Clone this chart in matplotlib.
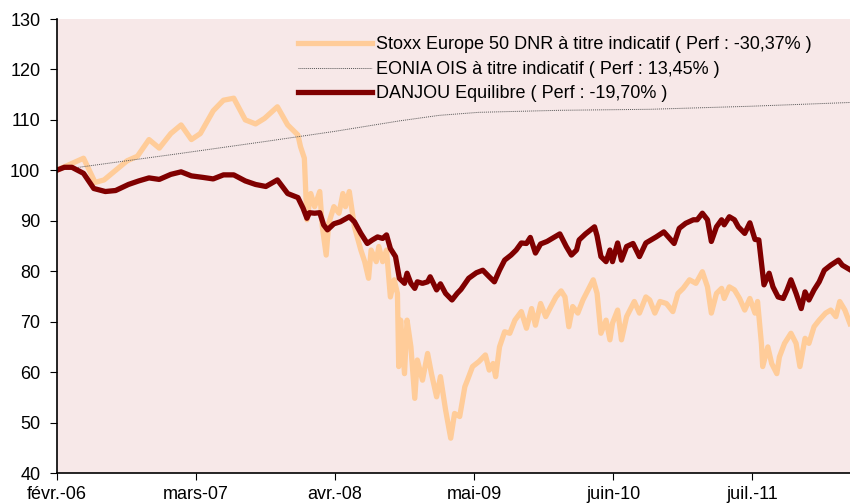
import matplotlib
matplotlib.use("Agg")
import matplotlib.pyplot as plt

plt.rcParams['font.family'] = ['Liberation Sans', 'DejaVu Sans']

# dates in decimal years
stoxx_t = [2006.08, 2006.29, 2006.38, 2006.45, 2006.63, 2006.71, 2006.80, 2006.88, 2006.97, 2007.05,
           2007.13, 2007.20, 2007.30, 2007.38, 2007.46, 2007.55, 2007.63, 2007.70, 2007.80, 2007.88,
           2007.96, 2007.98, 2008.01, 2008.02, 2008.03, 2008.06, 2008.09, 2008.13, 2008.15, 2008.18,
           2008.20, 2008.24, 2008.28, 2008.31, 2008.33, 2008.36, 2008.40, 2008.45, 2008.48, 2008.51,
           2008.53, 2008.57, 2008.59, 2008.62, 2008.65, 2008.68, 2008.71, 2008.735, 2008.745, 2008.76,
           2008.79, 2008.81, 2008.84, 2008.87, 2008.89, 2008.93, 2008.97, 2009.00, 2009.04, 2009.07,
           2009.11, 2009.15, 2009.18, 2009.22, 2009.26, 2009.28, 2009.32, 2009.37, 2009.42, 2009.45,
           2009.48, 2009.50, 2009.53, 2009.57, 2009.61, 2009.65, 2009.70, 2009.74, 2009.78, 2009.81,
           2009.85, 2009.89, 2009.93, 2009.97, 2010.01, 2010.04, 2010.07, 2010.10, 2010.14, 2010.18,
           2010.22, 2010.26, 2010.29, 2010.32, 2010.36, 2010.39, 2010.41, 2010.45, 2010.48, 2010.52,
           2010.58, 2010.62, 2010.67, 2010.70, 2010.74, 2010.78, 2010.83, 2010.88, 2010.92, 2010.96,
           2011.01, 2011.06, 2011.11, 2011.15, 2011.18, 2011.22, 2011.26, 2011.28, 2011.32, 2011.36,
           2011.40, 2011.44, 2011.48, 2011.52, 2011.54, 2011.57, 2011.58, 2011.62, 2011.65, 2011.69,
           2011.71, 2011.75, 2011.80, 2011.84, 2011.87, 2011.91, 2011.94, 2011.98, 2012.02, 2012.07,
           2012.11, 2012.15, 2012.18, 2012.22, 2012.26]
stoxx = [100.0, 102.4, 97.6, 98.1, 101.9, 102.8, 106.1, 104.4, 107.3, 109.0,
         106.1, 107.3, 111.8, 113.9, 114.3, 110.0, 109.2, 110.3, 112.6, 109.0,
         107.0, 104.7, 102.4, 96.1, 90.2, 95.4, 92.8, 95.8, 88.8, 83.2,
         89.5, 92.8, 91.5, 95.4, 92.8, 95.8, 88.8, 84.2, 81.9, 78.6,
         84.2, 81.9, 84.9, 81.9, 84.2, 74.9, 78.3, 75.6, 61.1, 70.3,
         59.7, 70.3, 65.0, 54.8, 62.4, 58.4, 63.7, 59.7, 55.1, 59.1,
         52.5, 46.9, 51.8, 51.2, 57.1, 58.4, 61.1, 62.1, 63.4, 60.4,
         61.7, 59.1, 65.0, 68.0, 67.7, 70.3, 72.0, 68.7, 72.6, 69.3,
         73.6, 71.0, 73.0, 74.9, 76.1, 74.9, 69.0, 73.0, 71.7, 74.3,
         76.3, 78.3, 75.6, 67.7, 70.3, 66.4, 69.7, 72.3, 66.4, 71.0,
         74.0, 71.7, 74.9, 74.3, 71.7, 74.0, 73.6, 72.0, 75.6, 76.6,
         78.3, 77.6, 79.9, 76.9, 71.7, 75.6, 76.6, 74.6, 76.9, 76.3,
         74.6, 72.3, 74.6, 71.7, 74.0, 65.7, 61.1, 65.0, 61.7, 59.7,
         63.0, 65.7, 67.7, 65.7, 61.1, 66.7, 65.7, 69.0, 70.3, 71.7,
         72.3, 71.0, 74.0, 72.3, 69.6]

eonia_t = [2006.08, 2007.03, 2007.70, 2008.24, 2008.75, 2009.06, 2009.37, 2010.00, 2010.70, 2011.48, 2012.26]
eonia = [100.0, 103.3, 105.7, 107.7, 109.8, 110.9, 111.5, 111.9, 112.1, 112.7, 113.45]

fund_t = [2006.08, 2006.14, 2006.20, 2006.29, 2006.37, 2006.46, 2006.54, 2006.64, 2006.72, 2006.80,
          2006.88, 2006.97, 2007.05, 2007.13, 2007.22, 2007.30, 2007.38, 2007.46, 2007.55, 2007.63,
          2007.71, 2007.80, 2007.88, 2007.96, 2008.00, 2008.03, 2008.05, 2008.09, 2008.13, 2008.16,
          2008.19, 2008.24, 2008.29, 2008.36, 2008.40, 2008.45, 2008.50, 2008.54, 2008.58, 2008.62,
          2008.65, 2008.68, 2008.72, 2008.75, 2008.79, 2008.81, 2008.84, 2008.87, 2008.89, 2008.93,
          2008.97, 2008.99, 2009.04, 2009.07, 2009.11, 2009.16, 2009.20, 2009.23, 2009.29, 2009.35,
          2009.40, 2009.45, 2009.49, 2009.53, 2009.57, 2009.62, 2009.66, 2009.70, 2009.74, 2009.77,
          2009.81, 2009.85, 2009.90, 2009.96, 2010.00, 2010.05, 2010.09, 2010.13, 2010.15, 2010.20,
          2010.27, 2010.29, 2010.32, 2010.36, 2010.39, 2010.41, 2010.45, 2010.48, 2010.52, 2010.57,
          2010.62, 2010.67, 2010.75, 2010.81, 2010.89, 2010.93, 2010.98, 2011.04, 2011.07, 2011.11,
          2011.15, 2011.18, 2011.22, 2011.26, 2011.28, 2011.32, 2011.36, 2011.39, 2011.44, 2011.48,
          2011.52, 2011.55, 2011.58, 2011.59, 2011.63, 2011.66, 2011.70, 2011.74, 2011.77, 2011.80,
          2011.84, 2011.88, 2011.91, 2011.94, 2011.98, 2012.02, 2012.06, 2012.11, 2012.17, 2012.20,
          2012.26]
fund = [100.0, 100.6, 100.6, 99.4, 96.4, 95.8, 96.0, 97.2, 97.9, 98.5,
        98.2, 99.2, 99.7, 98.9, 98.6, 98.3, 99.1, 99.1, 97.9, 97.2,
        96.8, 98.1, 95.4, 94.6, 92.5, 90.5, 91.6, 91.5, 91.6, 89.2,
        88.2, 89.4, 89.8, 90.8, 89.8, 87.5, 85.5, 86.2, 86.8, 86.5,
        87.2, 84.5, 82.9, 78.6, 77.6, 79.6, 77.6, 76.6, 77.9, 77.6,
        77.9, 78.9, 76.3, 77.5, 75.6, 74.3, 75.6, 76.4, 78.6, 79.7,
        80.2, 78.9, 77.9, 80.2, 82.2, 83.2, 84.2, 85.6, 85.5, 86.7,
        83.6, 85.4, 85.9, 86.8, 87.4, 84.9, 83.2, 84.2, 86.2, 87.4,
        88.8, 87.0, 82.9, 81.9, 84.2, 81.9, 85.6, 82.2, 84.9, 85.5,
        82.9, 85.6, 86.8, 87.8, 85.5, 88.5, 89.5, 90.2, 90.2, 91.5,
        90.2, 85.9, 88.8, 90.2, 89.2, 90.8, 90.2, 88.8, 87.5, 89.6,
        86.3, 86.2, 79.6, 77.3, 79.6, 76.9, 74.9, 74.6, 76.3, 78.3,
        75.6, 72.6, 75.9, 74.3, 76.3, 77.9, 80.2, 81.2, 82.2, 81.2,
        80.3]

labels = ["Stoxx Europe 50 DNR à titre indicatif ( Perf : -30,37% )",
          "EONIA OIS à titre indicatif ( Perf : 13,45% )",
          "DANJOU Equilibre ( Perf : -19,70% )"]

tick_pos = [2006.083, 2007.167, 2008.25, 2009.333, 2010.417, 2011.5]
tick_lbl = ["févr.-06", "mars-07", "avr.-08", "mai-09", "juin-10", "juil.-11"]

fig = plt.figure(figsize=(8.5, 5.04), dpi=100)
ax = fig.add_axes([0.067, 0.0615, 0.933, 0.9008])
ax.set_facecolor('#F7E8E8')

ax.plot(stoxx_t, stoxx, color='#FFCC99', lw=3.8, label=labels[0], solid_joinstyle='round')
ax.plot(eonia_t, eonia, color='#555555', lw=0.7, ls=(0, (1, 1)), label=labels[1])
ax.plot(fund_t, fund, color='#800000', lw=3.8, label=labels[2], solid_joinstyle='round')

ax.set_xlim(2006.083, 2012.26)
ax.set_ylim(40, 130)
ax.set_yticks(range(40, 131, 10))
ax.set_xticks(tick_pos)
ax.set_xticklabels(tick_lbl)
ax.tick_params(axis='both', labelsize=13, direction='out', length=5, color='black')
ax.tick_params(axis='x', pad=4)
ax.tick_params(axis='y', pad=7)

for s in ['top', 'right']:
    ax.spines[s].set_visible(False)
for s in ['left', 'bottom']:
    ax.spines[s].set_linewidth(1.2)

leg = ax.legend(loc='upper left', bbox_to_anchor=(0.304, 0.962), frameon=False, fontsize=13,
                handlelength=4.1, handletextpad=0.22, labelspacing=0.42, borderpad=0, borderaxespad=0)

fig.savefig('out.png', dpi=100)
